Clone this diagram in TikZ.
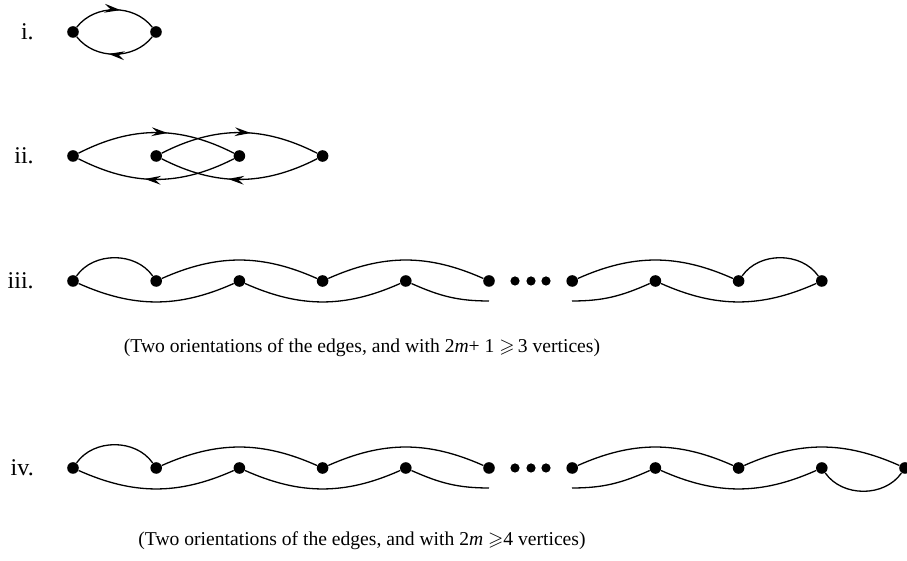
\documentclass[tikz,border=0pt]{standalone}
\usepackage{fontspec}
\setmainfont{Liberation Serif}
\usepackage{amssymb}
\usetikzlibrary{arrows.meta,positioning,decorations.markings}

\begin{document}
\begin{tikzpicture}[
        x=0.5pt, y=0.5pt,
        node distance=13pt,
        font=\fontsize{9.8}{12}\selectfont,
        vertex/.style={circle, fill, inner sep=0pt, minimum size=5.8pt},
        smalldot/.style={circle, fill, inner sep=0pt, minimum size=4.6pt},
        tag/.style={font=\fontsize{12}{14}\selectfont},
        edge/.style={line width=0.65pt},
        arr/.style={edge, postaction={decorate}, decoration={markings,
            mark=at position 0.57 with {\arrow{Stealth[length=8pt,width=4.4pt,inset=2.8pt]}}}}
      ]
        \useasboundingbox (0,0) rectangle (907,561);

        \node[vertex] (a1) at (73,529) {};
        \node[vertex] (a2) at (156,529) {};
        \node[tag, left=of a1] (li) {i.};
        \draw[arr] (a1) to[bend left=52] (a2);
        \draw[arr] (a2) to[bend left=52] (a1);

        \foreach \k in {1,...,4}
          \node[vertex] (b\k) at ({73+83.2*(\k-1)},405) {};
        \node[tag, left=of b1] (lii) {ii.};
        \draw[arr] (b1) to[bend left=27] (b3);
        \draw[arr] (b2) to[bend left=27] (b4);
        \draw[arr] (b3) to[bend left=27] (b1);
        \draw[arr] (b4) to[bend left=27] (b2);

        \foreach \k in {1,...,10}
          \node[vertex] (c\k) at ({73+83.2*(\k-1)},280) {};
        \foreach \x [count=\k] in {515,531,546}
          \node[smalldot] (cd\k) at (\x,280) {};
        \coordinate (cl) at (489,260);
        \coordinate (cr) at (572,260);
        \node[tag, left=of c1] (liii) {iii.};
        \draw[edge] (c1) to[bend left=55] (c2);
        \draw[edge] (c2) to[bend left=24] (c4);
        \draw[edge] (c4) to[bend left=24] (c6);
        \draw[edge] (c1) to[bend right=24] (c3);
        \draw[edge] (c3) to[bend right=24] (c5);
        \draw[edge] (c5) to[out=-24, in=180] (cl);
        \draw[edge] (cr) to[out=0, in=-156] (c8);
        \draw[edge] (c8) to[bend right=24] (c10);
        \draw[edge] (c7) to[bend left=24] (c9);
        \draw[edge] (c9) to[bend left=55] (c10);
        \node (capiii) at (362,213) {(Two orientations of the edges, and with 2\textit{m}+ 1 $\geqslant$\,3 vertices)};

        \foreach \k in {1,...,11}
          \node[vertex] (d\k) at ({73+83.2*(\k-1)},93) {};
        \foreach \x [count=\k] in {515,531,546}
          \node[smalldot] (dd\k) at (\x,93) {};
        \coordinate (dl) at (489,73);
        \coordinate (dr) at (572,73);
        \node[tag, left=of d1] (liv) {iv.};
        \draw[edge] (d1) to[bend left=55] (d2);
        \draw[edge] (d2) to[bend left=24] (d4);
        \draw[edge] (d4) to[bend left=24] (d6);
        \draw[edge] (d1) to[bend right=24] (d3);
        \draw[edge] (d3) to[bend right=24] (d5);
        \draw[edge] (d5) to[out=-24, in=180] (dl);
        \draw[edge] (dr) to[out=0, in=-156] (d8);
        \draw[edge] (d8) to[bend right=24] (d10);
        \draw[edge] (d10) to[bend right=55] (d11);
        \draw[edge] (d7) to[bend left=24] (d9);
        \draw[edge] (d9) to[bend left=24] (d11);
        \node (capiv) at (362,20) {(Two orientations of the edges, and with 2\textit{m} $\geqslant$4 vertices)};
      \end{tikzpicture}
\end{document}
